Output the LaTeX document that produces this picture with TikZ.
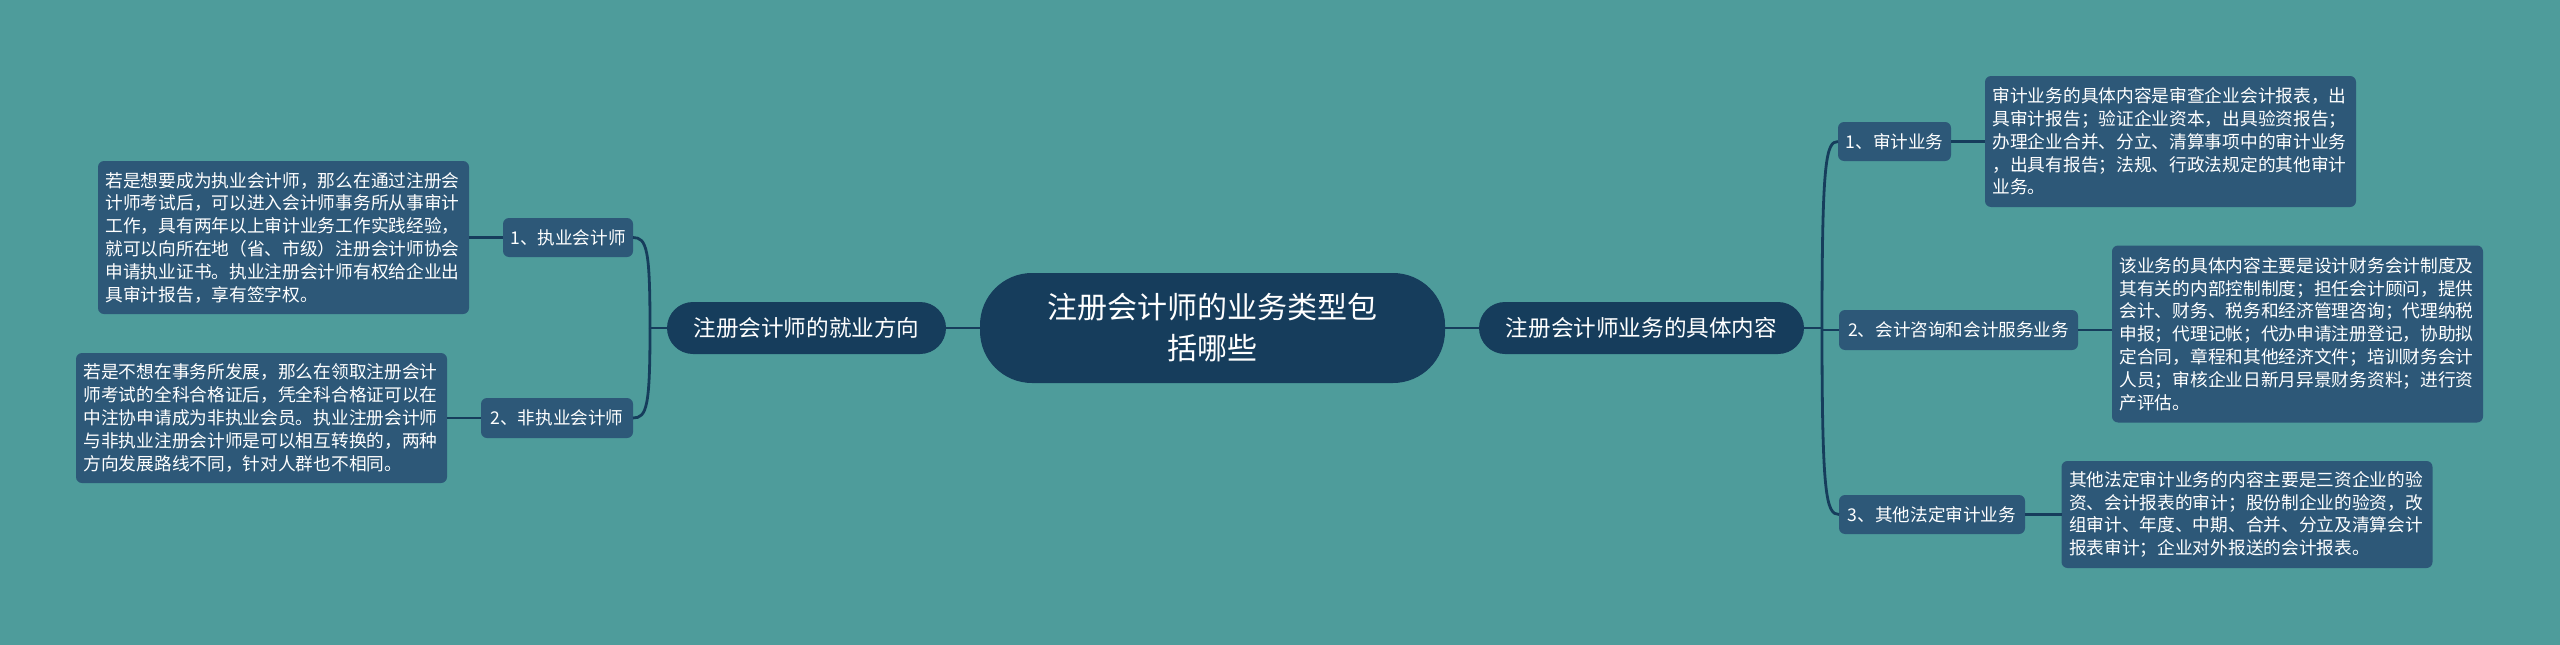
\documentclass[tikz,border=0pt]{standalone}
\usepackage{fontspec}
\setmainfont{Noto Sans CJK SC}
\definecolor{bg}{RGB}{78,156,155}
\definecolor{leaf}{RGB}{45,88,120}
\definecolor{hub}{RGB}{22,61,92}
\begin{document}
\begin{tikzpicture}[x=1pt,y=-1pt,
  every node/.style={text=white, inner sep=0pt, outer sep=0pt},
  leafbox/.style={fill=leaf, rounded corners=6pt, text width=356pt, align=left, minimum width=371pt, font=\fontsize{17.7}{22.8}\selectfont},
  subbox/.style={fill=leaf, rounded corners=6pt, minimum height=39pt, font=\fontsize{17.6}{22}\selectfont},
  midbox/.style={fill=hub, rounded corners=26pt, minimum height=52pt, font=\fontsize{22.6}{26}\selectfont},
  hubbox/.style={fill=hub, rounded corners=52pt, minimum width=465pt, minimum height=110pt, align=center, font=\fontsize{30}{41}\selectfont},
  link/.style={draw=hub, line width=2.8pt}
]
\fill[bg] (0,0) rectangle (2560,645);
\useasboundingbox (0,0) rectangle (2560,645);

% center
\node[hubbox] (c) at (1212.5,328) {注册会计师的业务类型包\\括哪些};
\node[midbox, minimum width=279pt] (lm) at (806.5,328) {注册会计师的就业方向};
\node[midbox, minimum width=325pt] (rm) at (1641.5,328) {注册会计师业务的具体内容};

% left side
\node[subbox, minimum width=130pt] (l1) at (568,237.5) {1、执业会计师};
\node[subbox, minimum width=152pt, minimum height=40pt] (l2) at (557,418) {2、非执业会计师};
\node[leafbox, minimum height=153pt] (l1t) at (283.5,237.5) {若是想要成为执业会计师，那么在通过注册会\\计师考试后，可以进入会计师事务所从事审计\\工作，具有两年以上审计业务工作实践经验，\\就可以向所在地（省、市级）注册会计师协会\\申请执业证书。执业注册会计师有权给企业出\\具审计报告，享有签字权。};
\node[leafbox, minimum height=130pt] (l2t) at (261.5,418) {若是不想在事务所发展，那么在领取注册会计\\师考试的全科合格证后，凭全科合格证可以在\\中注协申请成为非执业会员。执业注册会计师\\与非执业注册会计师是可以相互转换的，两种\\方向发展路线不同，针对人群也不相同。};

% right side
\node[subbox, minimum width=113pt] (r1) at (1894.5,141.5) {1、审计业务};
\node[subbox, minimum width=239pt, minimum height=40pt] (r2) at (1958.5,330) {2、会计咨询和会计服务业务};
\node[subbox, minimum width=186pt] (r3) at (1932,514.5) {3、其他法定审计业务};
\node[leafbox, minimum height=131pt] (r1t) at (2170.5,141.5) {审计业务的具体内容是审查企业会计报表，出\\具审计报告；验证企业资本，出具验资报告；\\办理企业合并、分立、清算事项中的审计业务\\，出具有报告；法规、行政法规定的其他审计\\业务。};
\node[leafbox, minimum height=177pt] (r2t) at (2297.5,334) {该业务的具体内容主要是设计财务会计制度及\\其有关的内部控制制度；担任会计顾问，提供\\会计、财务、税务和经济管理咨询；代理纳税\\申报；代理记帐；代办申请注册登记，协助拟\\定合同，章程和其他经济文件；培训财务会计\\人员；审核企业日新月异景财务资料；进行资\\产评估。};
\node[leafbox, minimum height=107pt] (r3t) at (2247,514.5) {其他法定审计业务的内容主要是三资企业的验\\资、会计报表的审计；股份制企业的验资，改\\组审计、年度、中期、合并、分立及清算会计\\报表审计；企业对外报送的会计报表。};

% connectors
\coordinate (lb) at (650,328);
\coordinate (rb) at (1822,328);
\draw[link] (c.west) -- (lm.east);
\draw[link] (c.east) -- (rm.west);
\draw[link] (lm.west) -- (lb);
\draw[link] (lb) .. controls (650,250) and (647,237.5) .. (l1.east);
\draw[link] (lb) .. controls (650,406) and (647,418) .. (l2.east);
\draw[link] (l1t.east) -- (l1.west);
\draw[link] (l2t.east) -- (l2.west);
\draw[link] (rm.east) -- (rb);
\draw[link] (rb) .. controls (1822,160) and (1826,141.5) .. (r1.west);
\draw[link] (rb) -- (rb |- r2.west) -- (r2.west);
\draw[link] (rb) .. controls (1822,495) and (1826,514.5) .. (r3.west);
\draw[link] (r1.east) -- (r1t.west);
\draw[link] (r2.east) -- (r2.east -| r2t.west);
\draw[link] (r3.east) -- (r3t.west);
\end{tikzpicture}
\end{document}
